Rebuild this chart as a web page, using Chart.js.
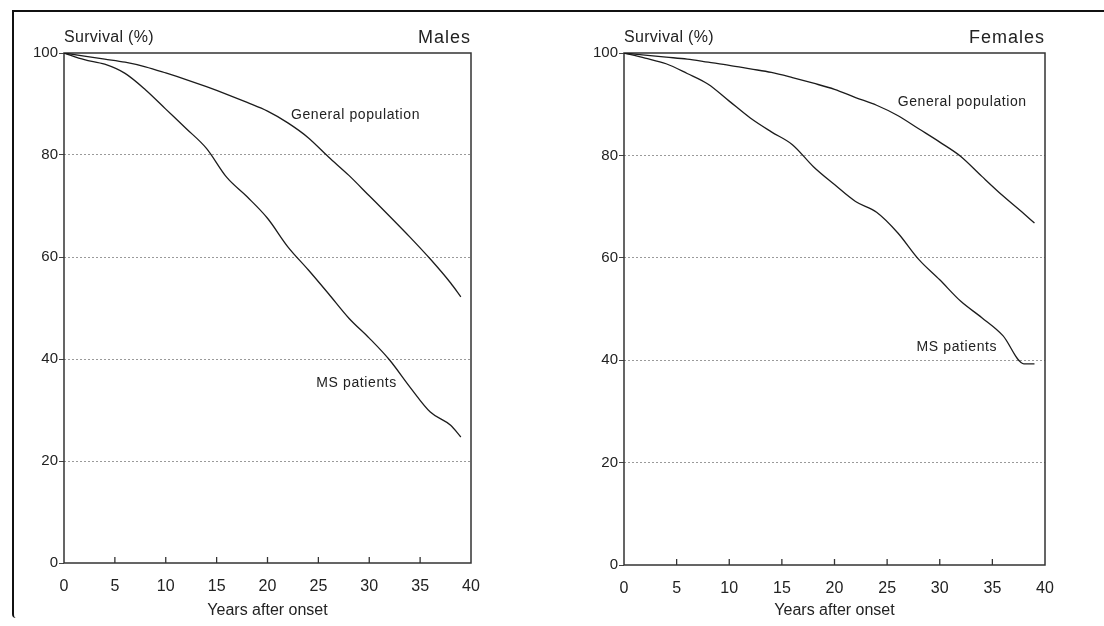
<!DOCTYPE html>
<html>
<head>
<meta charset="utf-8">
<script src="https://cdn.jsdelivr.net/npm/chart.js@4.4.1/dist/chart.umd.min.js"></script>
<style>
  html, body { margin: 0; padding: 0; background: #fff; }
  body { width: 1104px; height: 626px; position: relative; overflow: hidden; }
  .panel { position: absolute; top: 0; width: 552px; height: 626px; }
  #malesWrap { left: 0; }
  #femalesWrap { left: 552px; }
  /* edge of the scanned page */
  .scanEdge {
    position: absolute; top: 10px; left: 12px; width: 1100px; height: 606px;
    border-top: 2px solid #111; border-left: 2px solid #111;
    border-bottom-left-radius: 4px;
  }
</style>
</head>
<body>
<div class="scanEdge"></div>
<div class="panel" id="malesWrap"><canvas id="malesChart" width="552" height="626"></canvas></div>
<div class="panel" id="femalesWrap"><canvas id="femalesChart" width="552" height="626"></canvas></div>

<script>
// Years after onset (shared by both panels)
const years = [0, 2, 4, 6, 8, 10, 12, 14, 16, 18, 20, 22, 24, 26, 28, 30, 32, 34, 36, 38, 39];

// Survival (%) - males
const malesGeneral = [100, 99.4, 98.8, 98.2, 97.3, 96.1, 94.8, 93.4, 91.9, 90.3, 88.6, 86.3, 83.4, 79.6, 76.0, 72.0, 68.0, 63.9, 59.6, 54.9, 52.2];
const malesMS      = [100, 98.7, 97.8, 96.0, 92.8, 89.0, 85.2, 81.3, 75.6, 71.8, 67.6, 62.0, 57.5, 52.8, 48.0, 44.1, 39.8, 34.5, 29.6, 27.0, 24.7];

// Survival (%) - females
const femalesGeneral = [100, 99.6, 99.2, 98.8, 98.2, 97.6, 96.9, 96.2, 95.2, 94.1, 92.9, 91.3, 89.8, 87.8, 85.2, 82.6, 79.8, 75.9, 72.1, 68.6, 66.8];
const femalesMS      = [100, 99.0, 97.9, 96.0, 93.9, 90.6, 87.3, 84.6, 82.1, 77.8, 74.3, 71.0, 68.9, 64.9, 59.7, 55.7, 51.5, 48.3, 44.8, 39.3, 39.3];

const yTicks = [0, 20, 40, 60, 80, 100];
const xTicks = [0, 5, 10, 15, 20, 25, 30, 35, 40];

const FONT = '"Liberation Sans", Arial, sans-serif';
const INK = '#222';

/**
 * Frame, inward ticks and text labels drawn on top of the chart
 */
const decorPlugin = {
    id: 'decor',
    beforeDatasetsDraw(chart) {
        const { ctx, chartArea: a } = chart;
        ctx.save();
        ctx.strokeStyle = '#333';
        ctx.lineWidth = 1.5;
        ctx.strokeRect(a.left, a.top, a.right - a.left, a.bottom - a.top);

        // small inward ticks on the x axis
        const xs = chart.scales.x;
        ctx.lineWidth = 1.3;
        xs.ticks.forEach(t => {
            if (t.value <= 0 || t.value >= 40) return;
            const px = xs.getPixelForValue(t.value);
            ctx.beginPath();
            ctx.moveTo(px, a.bottom);
            ctx.lineTo(px, a.bottom - 6);
            ctx.stroke();
        });
        ctx.restore();
    },
    afterDraw(chart, args, opts) {
        const { ctx, chartArea: a, scales } = chart;
        ctx.save();
        ctx.fillStyle = INK;
        ctx.textBaseline = 'middle';

        ctx.letterSpacing = '0.3px';
        ctx.font = '16px ' + FONT;
        ctx.textAlign = 'left';
        ctx.fillText('Survival (%)', a.left, 38);

        ctx.letterSpacing = '1px';
        ctx.font = '18px ' + FONT;
        ctx.textAlign = 'right';
        ctx.fillText(opts.sex, a.right, 38);

        ctx.letterSpacing = '0.6px';
        ctx.font = '14px ' + FONT;
        ctx.textAlign = 'left';
        opts.labels.forEach(l => {
            ctx.fillText(l.text, scales.x.getPixelForValue(l.x), scales.y.getPixelForValue(l.y));
        });
        ctx.restore();
    }
};

function makeChart(canvasId, sex, general, ms, labels, box) {
    const toPoints = vals => vals.map((v, i) => ({ x: years[i], y: v }));

    return new Chart(document.getElementById(canvasId), {
        type: 'line',
        data: {
            datasets: [
                { label: 'General population', data: toPoints(general) },
                { label: 'MS patients', data: toPoints(ms) }
            ]
        },
        options: {
            responsive: false,
            animation: false,
            devicePixelRatio: 1,
            layout: { padding: { top: box.top, right: box.right, left: 0, bottom: 0 } },
            elements: {
                line: { borderColor: '#1c1c1c', borderWidth: 1.3, cubicInterpolationMode: 'monotone' },
                point: { radius: 0 }
            },
            plugins: {
                legend: { display: false },
                tooltip: { enabled: false },
                decor: { sex: sex, labels: labels }
            },
            scales: {
                x: {
                    type: 'linear',
                    min: 0,
                    max: 40,
                    afterBuildTicks: s => { s.ticks = xTicks.map(v => ({ value: v })); },
                    afterFit: s => { s.height = box.xHeight; },
                    grid: { display: false },
                    border: { display: false },
                    ticks: { color: INK, padding: 6, font: { family: FONT, size: 16 } },
                    title: {
                        display: true,
                        text: 'Years after onset',
                        color: INK,
                        font: { family: FONT, size: 16 },
                        padding: { top: 0, bottom: 6 }
                    }
                },
                y: {
                    min: 0,
                    max: 100,
                    afterBuildTicks: s => { s.ticks = yTicks.map(v => ({ value: v })); },
                    afterFit: s => { s.width = box.yWidth; },
                    grid: {
                        color: c => (c.tick && (c.tick.value === 0 || c.tick.value === 100)) ? 'rgba(0,0,0,0)' : '#9a9a9a',
                        lineWidth: 1,
                        tickLength: 5,
                        tickColor: '#444',
                        tickBorderDash: []
                    },
                    // in Chart.js v4 the grid line dash lives on border.dash
                    border: { display: false, dash: [2, 2] },
                    ticks: { color: INK, padding: 1, font: { family: FONT, size: 15 } }
                }
            }
        },
        plugins: [decorPlugin]
    });
}

makeChart('malesChart', 'Males', malesGeneral, malesMS, [
    { text: 'General population', x: 22.3, y: 87.8 },
    { text: 'MS patients', x: 24.8, y: 35.3 }
], { top: 53, right: 81, yWidth: 64, xHeight: 63 });

makeChart('femalesChart', 'Females', femalesGeneral, femalesMS, [
    { text: 'General population', x: 26.0, y: 90.4 },
    { text: 'MS patients', x: 27.8, y: 42.6 }
], { top: 53, right: 59, yWidth: 72, xHeight: 61 });
</script>
</body>
</html>
